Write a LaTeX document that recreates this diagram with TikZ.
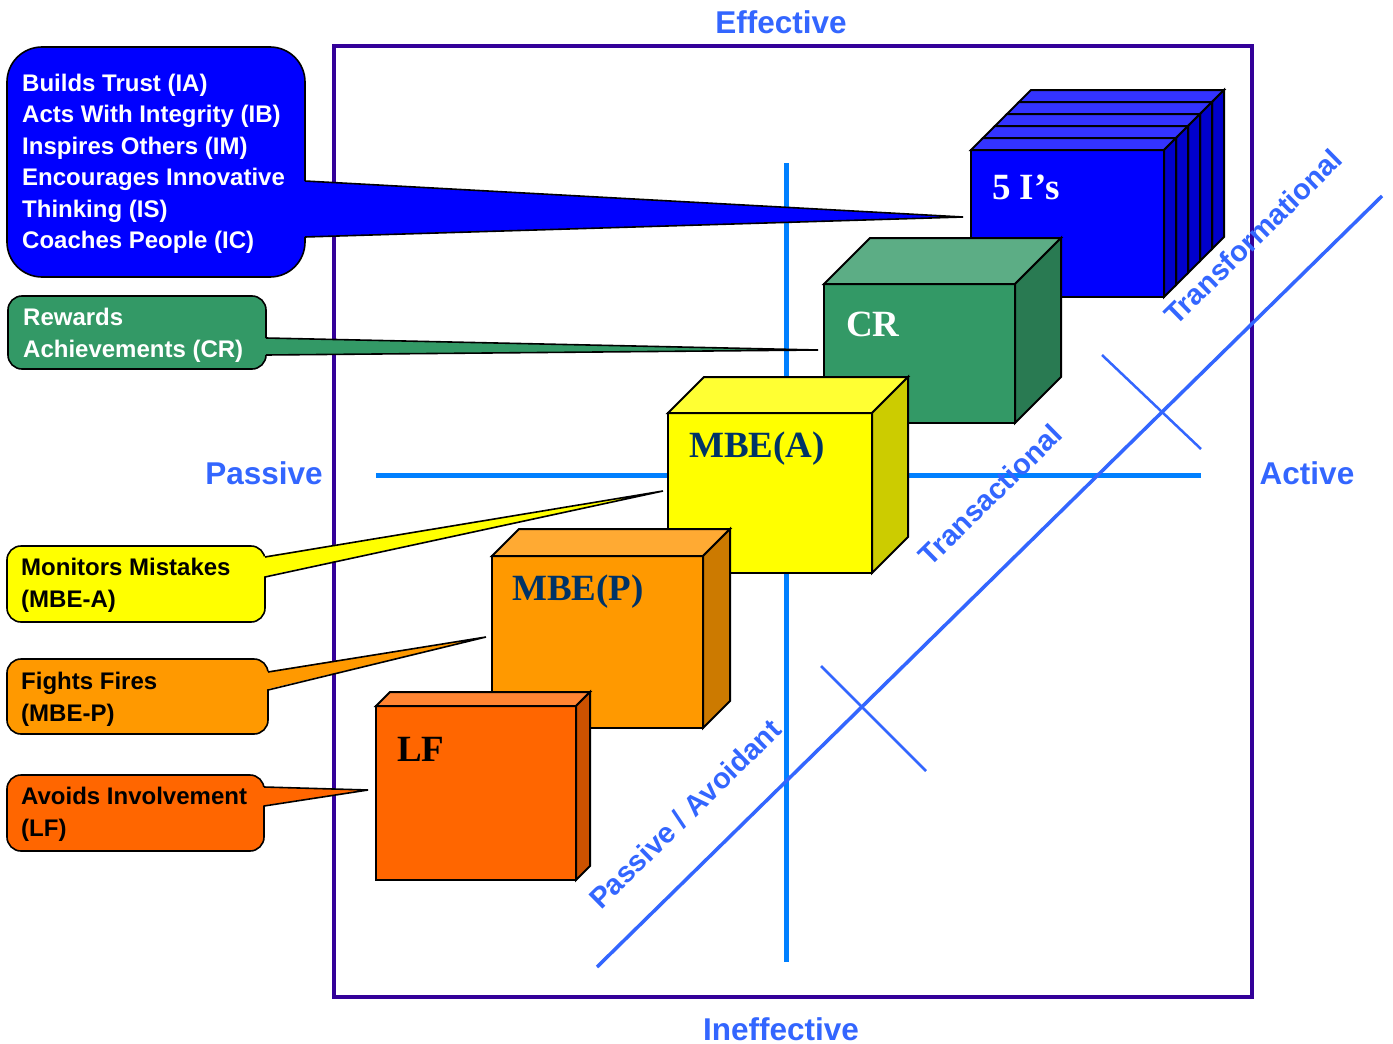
\documentclass[tikz,border=0pt]{standalone}
\usepackage{fontspec}
\setmainfont{Liberation Sans}
\newfontfamily\serifb{Liberation Serif}
\definecolor{framecol}{RGB}{51,0,153}
\definecolor{axiscol}{RGB}{0,128,255}
\definecolor{diagcol}{RGB}{51,102,255}
\definecolor{iFront}{RGB}{0,0,255}
\definecolor{iTop}{RGB}{51,51,255}
\definecolor{iSide}{RGB}{0,0,204}
\definecolor{crFront}{RGB}{51,153,102}
\definecolor{crTop}{RGB}{92,173,133}
\definecolor{crSide}{RGB}{41,122,82}
\definecolor{maFront}{RGB}{255,255,0}
\definecolor{maTop}{RGB}{255,255,51}
\definecolor{maSide}{RGB}{204,204,0}
\definecolor{mpFront}{RGB}{255,153,0}
\definecolor{mpTop}{RGB}{255,170,51}
\definecolor{mpSide}{RGB}{204,122,0}
\definecolor{lfFront}{RGB}{255,102,0}
\definecolor{lfTop}{RGB}{255,133,51}
\definecolor{lfSide}{RGB}{204,82,0}
\definecolor{navy}{RGB}{0,51,102}
\newcommand\drawcuboid[8]{%
  \filldraw[boxline, fill=#6] ({#1},{#2}) rectangle ({#3},{#4});
  \filldraw[boxline, fill=#7] ({#1},{#2}) -- ({#1+#5},{#2-#5}) -- ({#3+#5},{#2-#5}) -- ({#3},{#2}) -- cycle;
  \filldraw[boxline, fill=#8] ({#3},{#2}) -- ({#3+#5},{#2-#5}) -- ({#3+#5},{#4-#5}) -- ({#3},{#4}) -- cycle;
}
\newcommand\drawcallout[9]{%
  \filldraw[calloutline, fill=#9, rounded corners=#5] (#1,#2) rectangle (#3,#4);
  \fill[#9] ({#3-4},#6) -- (#8) -- ({#3-4},#7) -- cycle;
  \draw[calloutline] (#3,#6) -- (#8) -- (#3,#7);
}
\begin{document}
\begin{tikzpicture}[x=1pt,y=-1pt,
  frameline/.style={draw=framecol, line width=3.5pt},
  axisline/.style={draw=axiscol, line width=5pt},
  diagline/.style={draw=diagcol, line width=3.5pt},
  crossline/.style={draw=diagcol, line width=2.5pt},
  boxline/.style={draw=black, line width=2pt},
  calloutline/.style={draw=black, line width=1.6pt},
  calltext/.style={anchor=north west, inner sep=0pt, align=left, font=\bfseries\fontsize{24}{31.5}\selectfont},
  axislabel/.style={text=diagcol, font=\bfseries\fontsize{31.5}{36}\selectfont, anchor=base, inner sep=0pt},
  diaglabel/.style={text=diagcol, font=\bfseries\fontsize{29}{33}\selectfont, rotate=44.5, inner sep=0pt},
  boxlabel/.style={font=\serifb\bfseries\fontsize{37}{41}\selectfont, anchor=base west, inner sep=0pt}]
\useasboundingbox (0,0) rectangle (1393,1044);
\fill[white] (0,0) rectangle (1393,1044);

% frame
\draw[frameline] (334,46) rectangle (1252,997);

% axes
\coordinate (vtop) at (786,163);
\coordinate (vbot) at (786,962);
\coordinate (hleft) at (376,475);
\coordinate (hright) at (1201,475);
\draw[axisline] (vtop) -- (vbot);
\draw[axisline] (hleft) -- (hright);

% diagonal and crosses
\coordinate (dlow) at (597,967);
\coordinate (dhigh) at (1382,196);
\draw[diagline] (dlow) -- (dhigh);
\coordinate (c1a) at (1102,355);
\coordinate (c1b) at (1201,449);
\coordinate (c2a) at (821,666);
\coordinate (c2b) at (926,771);
\draw[crossline] (c1a) -- (c1b);
\draw[crossline] (c2a) -- (c2b);

% boxes (back to front)
\foreach \k in {4,3,2,1,0}{
  \drawcuboid{971+12*\k}{150-12*\k}{1164+12*\k}{297-12*\k}{12}{iFront}{iTop}{iSide}
}
\drawcuboid{824}{284}{1015}{423}{46}{crFront}{crTop}{crSide}
\drawcuboid{668}{413}{872}{573}{36}{maFront}{maTop}{maSide}
\drawcuboid{492}{556}{703}{728}{27}{mpFront}{mpTop}{mpSide}
\drawcuboid{376}{706}{576}{880}{14}{lfFront}{lfTop}{lfSide}

\node[boxlabel, text=white] (fiveI) at (992,199) {5 I’s};
\node[boxlabel, text=white] (cr) at (846,336) {CR};
\node[boxlabel, text=navy] (mbea) at (689,457) {MBE(A)};
\node[boxlabel, text=navy] (mbep) at (512,600) {MBE(P)};
\node[boxlabel, text=black] (lf) at (397,761) {LF};

% callouts
\coordinate (tipI) at (963,217);
\coordinate (tipCR) at (818,350);
\coordinate (tipMA) at (663,491);
\coordinate (tipMP) at (486,637);
\coordinate (tipLF) at (368,790);
\drawcallout{7}{47}{305}{277}{35pt}{181}{237}{tipI}{iFront}
\drawcallout{8}{296}{266}{369}{14pt}{338}{355}{tipCR}{crFront}
\drawcallout{7}{546}{265}{622}{14pt}{557}{577}{tipMA}{maFront}
\drawcallout{7}{659}{268}{734}{14pt}{672}{690}{tipMP}{mpFront}
\drawcallout{7}{775}{264}{851}{14pt}{787}{806}{tipLF}{lfFront}

\node[calltext, text=white] (tI) at (22,73.5) {Builds Trust (IA)\\Acts With Integrity (IB)\\Inspires Others (IM)\\Encourages Innovative\\Thinking (IS)\\Coaches People (IC)};
\node[calltext, text=white] (tCR) at (23,308) {Rewards\\Achievements (CR)};
\node[calltext, text=black] (tMA) at (21,558) {Monitors Mistakes\\(MBE-A)};
\node[calltext, text=black] (tMP) at (21,672) {Fights Fires\\(MBE-P)};
\node[calltext, text=black] (tLF) at (21,787) {Avoids Involvement\\(LF)};

% axis labels
\node[axislabel] (eff) at (781,33) {Effective};
\node[axislabel] (ineff) at (781,1040) {Ineffective};
\node[axislabel] (pas) at (264,484) {Passive};
\node[axislabel] (act) at (1307,484) {Active};

% diagonal labels
\node[diaglabel] (trf) at (1253,237) {Transformational};
\node[diaglabel] (trc) at (990,495) {Transactional};
\node[diaglabel] (pav) at (685,814) {Passive / Avoidant};
\end{tikzpicture}
\end{document}
